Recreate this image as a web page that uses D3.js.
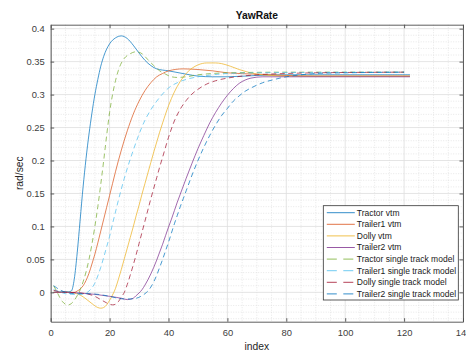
<!DOCTYPE html>
<html>
<head>
<meta charset="utf-8">
<script src="https://cdn.jsdelivr.net/npm/d3@7"></script>
<style>
  body { margin: 0; background: #fff; }
  svg { display: block; font-family: "Liberation Sans", Arial, sans-serif; }
</style>
</head>
<body>
<div id="chart"></div>
<script>
// Yaw rate traces as [index, rad/sec] pairs
const tractorVtm = [[1,0],[4,0.001],[6,0.001],[7,0.002],[8,0.02],[9,0.06],[10,0.11],[11,0.16],[12,0.203],[13,0.24],[14,0.272],[15,0.3],[16,0.323],[17,0.343],[18,0.358],[20,0.377],[22,0.386],[24,0.389],[26,0.385],[28,0.375],[30,0.363],[32,0.352],[34,0.344],[36,0.339],[40,0.336],[46,0.331],[50,0.328],[55,0.327],[60,0.327],[70,0.329],[80,0.33],[100,0.33],[122,0.33]];
const trailer1Vtm = [[1,0],[8,0],[9,0.002],[10,0.005],[11,0.01],[12,0.018],[13,0.029],[14,0.043],[15,0.058],[16,0.075],[17,0.093],[18,0.111],[19,0.129],[20,0.147],[21,0.165],[22,0.183],[23,0.2],[24,0.216],[25,0.231],[26,0.245],[28,0.27],[30,0.29],[32,0.306],[34,0.318],[36,0.327],[38,0.332],[40,0.336],[45,0.339],[50,0.338],[55,0.336],[60,0.333],[70,0.331],[80,0.329],[90,0.328],[122,0.328]];
const dollyVtm = [[1,0],[7,0],[8,-0.001],[10,-0.004],[12,-0.01],[14,-0.017],[16,-0.023],[17,-0.024],[18,-0.023],[19,-0.019],[20,-0.012],[21,-0.004],[22,0.006],[23,0.02],[24,0.035],[25,0.051],[26,0.067],[27,0.083],[28,0.099],[29,0.116],[30,0.132],[31,0.149],[32,0.165],[33,0.181],[34,0.197],[35,0.213],[36,0.228],[37,0.243],[38,0.257],[40,0.283],[42,0.304],[44,0.32],[46,0.332],[48,0.34],[50,0.345],[53,0.348],[56,0.348],[58,0.347],[61,0.343],[64,0.338],[67,0.334],[70,0.331],[75,0.329],[80,0.328],[122,0.328]];
const trailer2Vtm = [[1,0],[5,0],[10,-0.001],[15,-0.003],[20,-0.006],[24,-0.009],[26,-0.011],[28,-0.009],[29,-0.005],[30,-0.001],[31,0.004],[32,0.011],[33,0.019],[34,0.028],[35,0.038],[36,0.049],[37,0.061],[38,0.073],[39,0.086],[40,0.099],[41,0.111],[42,0.124],[43,0.137],[44,0.149],[46,0.173],[48,0.196],[50,0.218],[52,0.238],[54,0.257],[56,0.273],[58,0.287],[60,0.299],[62,0.309],[64,0.317],[66,0.322],[68,0.325],[72,0.327],[80,0.327],[122,0.327]];
const tractorStm = [[1,0.01],[2,0.002],[3,-0.007],[4,-0.014],[5,-0.018],[6,-0.019],[7,-0.017],[8,-0.012],[9,-0.005],[10,0.004],[11,0.016],[12,0.031],[13,0.05],[14,0.073],[15,0.1],[16,0.13],[17,0.164],[18,0.2],[19,0.238],[20,0.273],[21,0.3],[22,0.321],[23,0.337],[24,0.348],[25,0.355],[27,0.362],[29,0.365],[31,0.362],[33,0.353],[35,0.344],[37,0.336],[39,0.331],[41,0.327],[43,0.326],[46,0.327],[50,0.33],[55,0.332],[60,0.333],[80,0.334],[120,0.334]];
const trailer1Stm = [[1,0.004],[3,0.001],[5,-0.002],[8,-0.003],[10,-0.003],[12,-0.001],[13,0.002],[14,0.007],[15,0.014],[16,0.025],[17,0.038],[18,0.053],[19,0.069],[20,0.085],[21,0.104],[22,0.122],[23,0.14],[24,0.157],[25,0.173],[26,0.188],[27,0.202],[28,0.215],[30,0.24],[32,0.261],[34,0.277],[36,0.29],[38,0.301],[40,0.31],[43,0.318],[46,0.323],[50,0.327],[55,0.33],[60,0.332],[70,0.333],[120,0.334]];
const dollyStm = [[1,0.003],[3,0.001],[6,0],[10,-0.001],[13,-0.003],[15,-0.006],[17,-0.011],[19,-0.016],[20,-0.018],[21,-0.019],[22,-0.018],[23,-0.014],[24,-0.007],[25,0],[26,0.012],[27,0.026],[28,0.041],[29,0.057],[30,0.074],[31,0.091],[32,0.108],[33,0.125],[34,0.142],[35,0.158],[36,0.174],[37,0.19],[38,0.205],[40,0.235],[42,0.26],[44,0.278],[46,0.291],[48,0.301],[50,0.308],[53,0.316],[56,0.321],[60,0.325],[65,0.328],[70,0.33],[80,0.332],[90,0.333],[120,0.334]];
const trailer2Stm = [[1,0.01],[2,0.007],[3,0.004],[4,0.002],[5,0],[6,-0.001],[8,-0.002],[12,-0.002],[16,-0.003],[20,-0.006],[23,-0.009],[25,-0.01],[27,-0.01],[29,-0.009],[31,-0.005],[32,-0.002],[33,0.002],[34,0.008],[35,0.016],[36,0.026],[37,0.038],[38,0.05],[39,0.063],[40,0.076],[41,0.09],[42,0.104],[43,0.117],[44,0.13],[45,0.142],[46,0.154],[48,0.178],[50,0.2],[52,0.22],[54,0.238],[56,0.254],[58,0.268],[60,0.279],[62,0.29],[64,0.298],[66,0.305],[68,0.31],[72,0.318],[76,0.323],[80,0.327],[85,0.33],[90,0.332],[100,0.333],[120,0.334]];

const seriesNames = ['Tractor vtm', 'Trailer1 vtm', 'Dolly vtm', 'Trailer2 vtm',
  'Tractor single track model', 'Trailer1 single track model', 'Dolly single track model', 'Trailer2 single track model'];
const seriesData = [tractorVtm, trailer1Vtm, dollyVtm, trailer2Vtm, tractorStm, trailer1Stm, dollyStm, trailer2Stm];
const seriesColors = ['#0072BD', '#D95319', '#EDB120', '#7E2F8E', '#77AC30', '#4DBEEE', '#A2142F', '#0072BD'];
const seriesDashed = [false, false, false, false, true, true, true, true];

const xTicks = [0, 20, 40, 60, 80, 100, 120, 140];
const yTicks = [0, 0.05, 0.1, 0.15, 0.2, 0.25, 0.3, 0.35, 0.4];

// set the dimensions and margins (right side of the axes runs off the picture)
var width = 466, height = 352;
var margin = { top: 24.7, left: 50.7, right: 463, bottom: 321.7 };

var svg = d3.select('#chart').append('svg')
  .attr('width', width)
  .attr('height', height);

var x = d3.scaleLinear().domain([0, 140]).range([margin.left, margin.right]);
var y = d3.scaleLinear().domain([-0.0445, 0.406]).range([margin.bottom, margin.top]);

// minor grid (dotted)
var minorX = d3.range(5, 140, 5).filter(function (d) { return d % 20 !== 0; });
var minorY = d3.range(-4, 41).map(function (d) { return d / 100; })
  .filter(function (d) { return Math.round(d * 100) % 5 !== 0; });

var grid = svg.append('g');
grid.selectAll('.mx').data(minorX).enter().append('line')
  .attr('x1', function (d) { return x(d); }).attr('x2', function (d) { return x(d); })
  .attr('y1', margin.top).attr('y2', margin.bottom)
  .attr('stroke', '#d6d6d6').attr('stroke-width', 0.6).attr('stroke-dasharray', '1,1.5');
grid.selectAll('.my').data(minorY).enter().append('line')
  .attr('x1', margin.left).attr('x2', margin.right)
  .attr('y1', function (d) { return y(d); }).attr('y2', function (d) { return y(d); })
  .attr('stroke', '#d6d6d6').attr('stroke-width', 0.6).attr('stroke-dasharray', '1,1.5');

// major grid
grid.selectAll('.gx').data(xTicks).enter().append('line')
  .attr('x1', function (d) { return x(d); }).attr('x2', function (d) { return x(d); })
  .attr('y1', margin.top).attr('y2', margin.bottom)
  .attr('stroke', '#dedede').attr('stroke-width', 0.8);
grid.selectAll('.gy').data(yTicks).enter().append('line')
  .attr('x1', margin.left).attr('x2', margin.right)
  .attr('y1', function (d) { return y(d); }).attr('y2', function (d) { return y(d); })
  .attr('stroke', '#dedede').attr('stroke-width', 0.8);

// lines
var line = d3.line()
  .x(function (d) { return x(d[0]); })
  .y(function (d) { return y(d[1]); })
  .curve(d3.curveMonotoneX);

svg.append('g').selectAll('path')
  .data(seriesData)
  .enter()
  .append('path')
  .attr('d', line)
  .attr('fill', 'none')
  .attr('stroke', function (d, i) { return seriesColors[i]; })
  .attr('stroke-width', 0.9)
  .attr('stroke-opacity', 0.8)
  .attr('stroke-dasharray', function (d, i) { return seriesDashed[i] ? '5,3.5' : null; });

// axes
var axisColor = '#4d4d4d';
var xAxis = svg.append('g')
  .attr('transform', 'translate(0,' + margin.bottom + ')')
  .call(d3.axisBottom(x).tickValues(xTicks).tickSizeInner(-3.5).tickSizeOuter(0).tickPadding(8));
var xAxisTop = svg.append('g')
  .attr('transform', 'translate(0,' + margin.top + ')')
  .call(d3.axisTop(x).tickValues(xTicks).tickSizeInner(-3.5).tickSizeOuter(0).tickFormat(''));
var yAxis = svg.append('g')
  .attr('transform', 'translate(' + margin.left + ',0)')
  .call(d3.axisLeft(y).tickValues(yTicks).tickSizeInner(-3.5).tickSizeOuter(0).tickPadding(6)
    .tickFormat(function (d) { return String(+d.toFixed(2)); }));
var yAxisRight = svg.append('g')
  .attr('transform', 'translate(' + margin.right + ',0)')
  .call(d3.axisRight(y).tickValues(yTicks).tickSizeInner(-3.5).tickSizeOuter(0).tickFormat(''));

[xAxis, xAxisTop, yAxis, yAxisRight].forEach(function (a) {
  a.select('.domain').attr('stroke', axisColor).attr('stroke-width', 0.9);
  a.selectAll('.tick line').attr('stroke', axisColor).attr('stroke-width', 0.9);
  a.selectAll('.tick text').attr('fill', '#404040')
    .style('font-family', '"Liberation Sans", Arial, sans-serif').style('font-size', '9.4px');
});

// title and labels
svg.append('text')
  .attr('x', (margin.left + margin.right) / 2).attr('y', 19)
  .attr('text-anchor', 'middle')
  .style('font-size', '10.3px').style('font-weight', 'bold').attr('fill', '#111')
  .text('YawRate');
svg.append('text')
  .attr('x', (margin.left + margin.right) / 2).attr('y', 350)
  .attr('text-anchor', 'middle')
  .style('font-size', '10.3px').attr('fill', '#262626')
  .text('index');
svg.append('text')
  .attr('transform', 'translate(23,' + (margin.top + margin.bottom) / 2 + ') rotate(-90)')
  .attr('text-anchor', 'middle')
  .style('font-size', '10.3px').attr('fill', '#262626')
  .text('rad/sec');

// legend
var legend = svg.append('g').attr('transform', 'translate(323.3,205.7)');
legend.append('rect')
  .attr('width', 135).attr('height', 94.3)
  .attr('fill', '#fff').attr('stroke', '#333').attr('stroke-width', 0.8);
var items = legend.selectAll('.item')
  .data(seriesNames)
  .enter()
  .append('g')
  .attr('transform', function (d, i) { return 'translate(0,' + (7 + i * 11.6) + ')'; });
items.append('line')
  .attr('x1', 3.5).attr('x2', 31.5)
  .attr('stroke', function (d, i) { return seriesColors[i]; })
  .attr('stroke-width', 1)
  .attr('stroke-opacity', 0.8)
  .attr('stroke-dasharray', function (d, i) { return seriesDashed[i] ? '10,6.5' : null; });
items.append('text')
  .attr('x', 33.5).attr('dy', '0.35em')
  .style('font-size', '8.5px').attr('fill', '#1a1a1a')
  .text(function (d) { return d; });
</script>
</body>
</html>
